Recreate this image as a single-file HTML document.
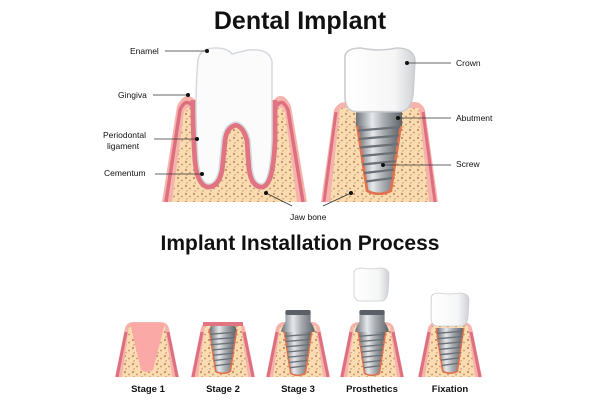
<!DOCTYPE html>
<html><head><meta charset="utf-8"><style>
html,body{margin:0;padding:0;background:#fff}
svg{display:block}
text{font-family:"Liberation Sans",sans-serif;fill:#111}
.l{font-size:8.5px}
.s{font-size:9.5px;font-weight:bold;text-anchor:middle}
</style></head><body>
<svg width="600" height="400" viewBox="0 0 600 400" xmlns="http://www.w3.org/2000/svg">
<defs>
<clipPath id="below"><rect x="0" y="100" width="600" height="120"/></clipPath>
<pattern id="dots" width="8" height="8" patternUnits="userSpaceOnUse">
<rect width="8" height="8" fill="#f9dcb0"/>
<circle cx="2" cy="2" r="1.1" fill="#c58a66"/><circle cx="6" cy="4.5" r="0.9" fill="#c58a66"/><circle cx="3" cy="6.8" r="0.8" fill="#cf9775"/>
</pattern>
<linearGradient id="metal" x1="0" x2="1">
<stop offset="0" stop-color="#6d7278"/><stop offset="0.35" stop-color="#e6e8ea"/><stop offset="0.6" stop-color="#a9adb2"/><stop offset="1" stop-color="#5f646a"/>
</linearGradient>
<linearGradient id="crownG" x1="0" x2="1">
<stop offset="0" stop-color="#ffffff"/><stop offset="0.7" stop-color="#f6f6f6"/><stop offset="1" stop-color="#cfd2d6"/>
</linearGradient>
<g id="gum">
<path d="M0,55 L10,6 Q12,0 19,0 L45,0 Q52,0 54,6 L64,55 Z" fill="#f6b3ad"/>
<path d="M2,55 L11,10 M62,55 L53,10" stroke="#de6f7f" stroke-width="3" fill="none"/>
<path d="M7,55 L14,4 L50,4 L57,55 Z" fill="url(#dots)"/>
</g>
<g id="screw">
<path d="M-13.5,0 L13.5,0 L7.5,41 Q0,45 -7.5,41 Z" fill="#e0724f"/>
<path d="M-12,0 L12,0 L6,40 Q0,43 -6,40 Z" fill="url(#metal)"/>
<g stroke="#6a7076" stroke-width="1.3" fill="none">
<path d="M-12,5 L12,3"/><path d="M-11.5,10 L11.5,8"/><path d="M-11,15 L11,13"/><path d="M-10,20 L10,18"/><path d="M-9.5,25 L9.5,23"/><path d="M-8.5,30 L8.5,28"/><path d="M-7.5,35 L7.5,33"/>
</g>
</g>
<g id="abut">
<path d="M-12,1 Q-12,0 -10,0 L10,0 Q12,0 12,1 L12,12 Q16,18 16,22 L-16,22 Q-16,18 -12,12 Z" fill="url(#metal)"/>
<rect x="-12" y="0" width="24" height="5" rx="2" fill="#5b6066"/>
</g>
<g id="crown">
<path d="M2,4 Q3,0 10,0 Q19,2 28,0 Q36,0 37,6 L36,24 Q35,33 29,33 L8,33 Q2,33 2,25 Z" fill="url(#crownG)" stroke="#c9ccd0" stroke-width="0.8"/>
</g>
</defs>

<text x="300" y="29" text-anchor="middle" style="font-size:25px;font-weight:bold">Dental Implant</text>
<text x="300" y="250" text-anchor="middle" style="font-size:21px;font-weight:bold">Implant Installation Process</text>

<!-- natural tooth -->
<path d="M162,202 L177,106 Q186,88 197,102 L272,102 Q282,88 291,106 L307,202 Z" fill="#f6b3ad"/>
<path d="M166,202 L180,110 Q186,96 194,108 M303,202 L288,110 Q282,96 275,108" stroke="#de6f7f" stroke-width="3.5" fill="none"/>
<path d="M172,202 L184,112 Q188,104 194,110 L275,110 Q281,104 285,112 L297,202 Z" fill="url(#dots)"/>
<path clip-path="url(#below)" d="M198,60 Q200,48 215,48 Q228,48 232,54 Q240,52 248,50 Q270,48 272,62 L272,140 Q270,182 262,184 Q254,184 252,168 L250,140 Q246,124 236,122 Q224,124 222,140 L219,170 Q216,184 208,184 Q200,182 198,160 Q194,100 198,60 Z" fill="#e07482" stroke="#e07482" stroke-width="11" stroke-linejoin="round"/>
<path d="M198,60 Q200,48 215,48 Q228,48 232,54 Q240,52 248,50 Q270,48 272,62 L272,140 Q270,182 262,184 Q254,184 252,168 L250,140 Q246,124 236,122 Q224,124 222,140 L219,170 Q216,184 208,184 Q200,182 198,160 Q194,100 198,60 Z" fill="#fbfbfc" stroke="#d6dade" stroke-width="1.5"/>

<!-- implant top -->
<path d="M321,202 L334,110 Q338,102 346,102 L414,102 Q422,102 425,110 L438,202 Z" fill="#f6b3ad"/>
<path d="M324,202 L336,112 M435,202 L423,112" stroke="#de6f7f" stroke-width="3" fill="none"/>
<path d="M330,202 L340,108 L419,108 L429,202 Z" fill="url(#dots)"/>
<g transform="translate(379,122) scale(1.75,1.7)"><use href="#screw"/></g>
<rect x="356" y="110" width="46" height="16" fill="url(#metal)"/>
<g transform="translate(341,48) scale(2,1.93)"><use href="#crown"/></g>

<!-- labels -->
<g stroke="#333" stroke-width="0.8">
<line x1="165" y1="51" x2="207" y2="51"/><line x1="153" y1="95" x2="188" y2="95"/><line x1="154" y1="139" x2="197" y2="139"/><line x1="155" y1="174" x2="202" y2="174"/>
<line x1="266" y1="193" x2="292" y2="206"/><line x1="351" y1="193" x2="323" y2="206"/>
<line x1="407" y1="63" x2="451" y2="63"/><line x1="398" y1="118" x2="451" y2="118"/><line x1="383" y1="165" x2="451" y2="165"/>
</g>
<g fill="#111">
<circle cx="207" cy="51" r="2"/><circle cx="188" cy="95" r="2"/><circle cx="197" cy="139" r="2"/><circle cx="202" cy="174" r="2"/>
<circle cx="266" cy="193" r="2"/><circle cx="351" cy="193" r="2"/><circle cx="407" cy="63" r="2"/><circle cx="398" cy="118" r="2"/><circle cx="383" cy="165" r="2"/>
</g>
<text class="l" x="130" y="54">Enamel</text>
<text class="l" x="118" y="98">Gingiva</text>
<text class="l" x="103" y="138">Periodontal</text>
<text class="l" x="107" y="149">ligament</text>
<text class="l" x="104" y="176">Cementum</text>
<text class="l" x="290" y="220">Jaw bone</text>
<text class="l" x="456" y="66">Crown</text>
<text class="l" x="456" y="121">Abutment</text>
<text class="l" x="456" y="167">Screw</text>

<!-- stages -->
<g transform="translate(115,322)"><use href="#gum"/><path d="M15,1 L50,1 L38,48 Q32,52 26,48 Z" fill="#fba9a7"/></g>
<g transform="translate(191,322)"><use href="#gum"/><rect x="12" y="0" width="40" height="4" fill="#e07482"/></g>
<g transform="translate(223,329) scale(1.08,1.05)"><use href="#screw"/></g>
<rect x="210" y="326" width="26" height="6" rx="2" fill="url(#metal)"/>
<g transform="translate(266,322)"><use href="#gum"/></g>
<g transform="translate(298,331) scale(1.08,1.05)"><use href="#screw"/></g>
<g transform="translate(298,310) scale(1.05,1)"><use href="#abut"/></g>
<g transform="translate(340,322)"><use href="#gum"/></g>
<g transform="translate(372,331) scale(1.08,1.05)"><use href="#screw"/></g>
<g transform="translate(372,310) scale(1.05,1)"><use href="#abut"/></g>
<g transform="translate(352,268)"><use href="#crown"/></g>
<g transform="translate(418,322)"><use href="#gum"/></g>
<g transform="translate(450,328) scale(1.08,1.07)"><use href="#screw"/></g>
<g transform="translate(429,293) scale(1.08,1)"><use href="#crown"/></g>

<text class="s" x="148" y="392">Stage 1</text>
<text class="s" x="223" y="392">Stage 2</text>
<text class="s" x="298" y="392">Stage 3</text>
<text class="s" x="372" y="392">Prosthetics</text>
<text class="s" x="450" y="392">Fixation</text>
</svg>
</body></html>
